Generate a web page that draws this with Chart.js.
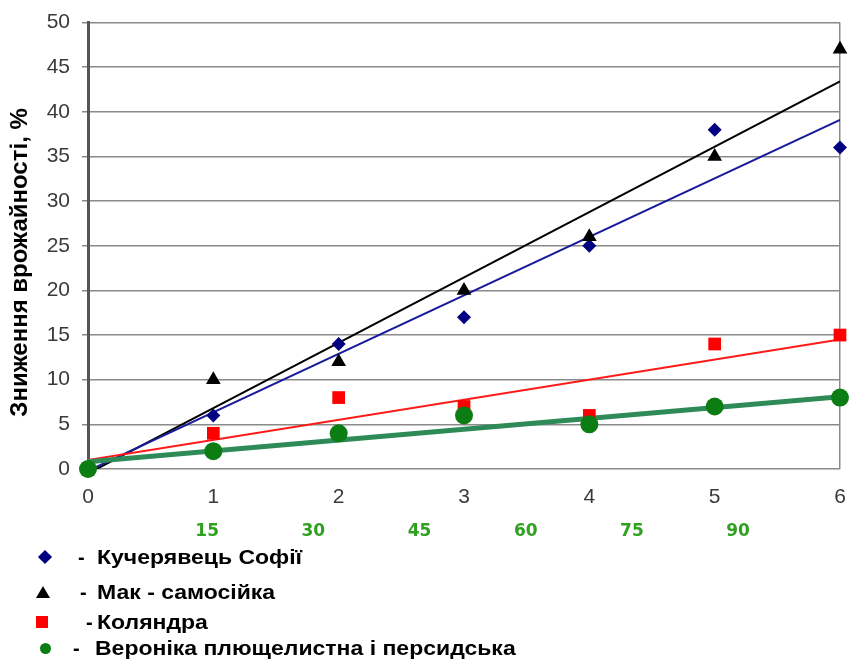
<!DOCTYPE html>
<html>
<head>
<meta charset="utf-8">
<script src="https://cdn.jsdelivr.net/npm/chart.js@4.4.1/dist/chart.umd.min.js"></script>
<style>
  body { margin: 0; background: #fff; }
  #wrap { position: relative; width: 850px; height: 662px; }
  #legend { position: absolute; left: 0; top: 0; width: 850px; height: 662px; pointer-events: none; }
  .row { position: absolute; left: 0; height: 24px; font: bold 20px "Liberation Sans", Arial, sans-serif; color: #000; }
  .row span { position: absolute; top: 0; line-height: 24px; white-space: nowrap; }
  .row .txt { transform: scaleX(1.15); transform-origin: left center; }
  .mk { position: absolute; }
</style>
</head>
<body>
<div id="wrap">
  <canvas id="myChart"></canvas>
  <div id="legend"></div>
</div>
<script>
// Дані з графіка
var doseX = [0, 1, 2, 3, 4, 5, 6];
var kucheryavets = [0, 6, 14, 17, 25, 38, 36];
var mak = [0, 10, 12, 20, 26, 35, 47];
var kolyandra = [0, 4, 8, 7, 6, 14, 15];
var veronika = [0, 2, 4, 6, 5, 7, 8];

// Лінії тренду: значення на початку (x=0) і в кінці (x=6), як на малюнку
var trendX = [0, 6];
var kucheryavetsTrend = [-0.2, 39.1];
var makTrend = [-0.5, 43.4];
var kolyandraTrend = [1.0, 14.5];
var veronikaTrend = [0.8, 8.1];

var yTicks = [0, 5, 10, 15, 20, 25, 30, 35, 40, 45, 50];
var normTicks = [15, 30, 45, 60, 75, 90];

var seriesNames = ['Кучерявець Софії', 'Мак - самосійка', 'Коляндра', 'Вероніка плющелистна і персидська'];

function toPoints(xs, ys) {
    return xs.map(function (x, i) { return { x: x, y: ys[i] }; });
}

function scatterSet(label, ys, style, color, radius, order) {
    return {
        type: 'scatter',
        label: label,
        data: toPoints(doseX, ys),
        pointStyle: style,
        pointRadius: radius,
        pointHoverRadius: radius,
        backgroundColor: color,
        borderColor: color,
        borderWidth: 0,
        clip: false,
        order: order
    };
}

function trendSet(ys, color, width, order) {
    return {
        type: 'line',
        data: toPoints(trendX, ys),
        borderColor: color,
        borderWidth: width,
        pointRadius: 0,
        fill: false,
        order: order
    };
}

var ctx = document.getElementById('myChart').getContext('2d');
var myChart = new Chart(ctx, {
    data: {
        datasets: [
            scatterSet(seriesNames[3], veronika, 'circle', '#0b7d12', 9, 0),
            scatterSet(seriesNames[2], kolyandra, 'rect', '#ff0000', 9, 1),
            scatterSet(seriesNames[1], mak, 'triangle', '#000000', 8.5, 2),
            scatterSet(seriesNames[0], kucheryavets, 'rectRot', '#000080', 7, 3),
            trendSet(veronikaTrend, '#2e8b57', 5, 4),
            trendSet(kolyandraTrend, '#ff1a1a', 2, 5),
            trendSet(kucheryavetsTrend, '#1a1a9a', 2, 6),
            trendSet(makTrend, '#000000', 2, 7)
        ]
    },
    options: {
        responsive: true,
        maintainAspectRatio: false,
        animation: false,
        layout: { padding: { top: 20, right: 10, bottom: 118, left: 0 } },
        plugins: { legend: { display: false }, tooltip: { enabled: false } },
        scales: {
            x: {
                type: 'linear',
                position: 'bottom',
                weight: 0,
                min: 0,
                max: 6,
                afterFit: function (s) { s.height = 40; },
                grid: {
                    drawTicks: true,
                    tickLength: 16,
                    tickColor: 'rgba(0,0,0,0)',
                    lineWidth: 1.5,
                    color: function (c) { return c.tick && c.tick.value === 6 ? '#8a8a8a' : 'rgba(0,0,0,0)'; }
                },
                border: { display: false },
                ticks: {
                    stepSize: 1,
                    padding: 0,
                    color: '#3a3a3a',
                    font: { family: 'Liberation Sans, Arial', size: 21 }
                }
            },
            x2: {
                type: 'linear',
                position: 'bottom',
                weight: 1,
                min: -1.84,
                max: 104.4,
                afterFit: function (s) { s.height = 35; },
                afterBuildTicks: function (s) { s.ticks = normTicks.map(function (v) { return { value: v }; }); },
                grid: { display: false, drawTicks: false },
                border: { display: false },
                ticks: {
                    autoSkip: false,
                    padding: 12,
                    color: '#30a020',
                    font: { family: 'DejaVu Sans', size: 17, weight: 'bold' }
                }
            },
            y: {
                type: 'linear',
                min: 0,
                max: 50,
                afterFit: function (s) { s.width = 88; },
                afterBuildTicks: function (s) { s.ticks = yTicks.map(function (v) { return { value: v }; }); },
                grid: { color: '#8a8a8a', lineWidth: 1.5, tickLength: 6 },
                border: { color: '#555555', width: 3 },
                ticks: {
                    padding: 12,
                    color: '#3a3a3a',
                    font: { family: 'Liberation Sans, Arial', size: 21, lineHeight: 1 }
                },
                title: {
                    display: true,
                    // пробіли в кінці зсувають підпис трохи вниз, як в оригіналі
                    text: 'Зниження врожайності, %     ',
                    color: '#000',
                    padding: { top: 6, bottom: 0 },
                    font: { family: 'Liberation Sans Narrow, Liberation Sans, Arial', size: 24, weight: 'bold' }
                }
            }
        }
    }
});

// Легенда під графіком
var legendRows = [
    { y: 557, dash: 78, txt: 97, marker: 'diamond', mx: 45, color: '#000080' },
    { y: 592, dash: 80, txt: 97, marker: 'triangle', mx: 43, color: '#000000' },
    { y: 622, dash: 86, txt: 97, marker: 'square', mx: 42, color: '#ff0000' },
    { y: 648, dash: 73, txt: 95, marker: 'circle', mx: 45, color: '#0b7d12' }
];
var legendEl = document.getElementById('legend');
legendRows.forEach(function (r, i) {
    var mk = document.createElement('div');
    mk.className = 'mk';
    var st = mk.style;
    if (r.marker === 'diamond') {
        st.width = '10px'; st.height = '10px'; st.left = (r.mx - 5) + 'px'; st.top = (r.y - 5) + 'px';
        st.background = r.color; st.transform = 'rotate(45deg)';
    } else if (r.marker === 'triangle') {
        st.width = '0'; st.height = '0'; st.left = (r.mx - 7) + 'px'; st.top = (r.y - 6) + 'px';
        st.borderLeft = '7px solid transparent'; st.borderRight = '7px solid transparent';
        st.borderBottom = '12px solid ' + r.color;
    } else if (r.marker === 'square') {
        st.width = '12px'; st.height = '12px'; st.left = (r.mx - 6) + 'px'; st.top = (r.y - 6) + 'px';
        st.background = r.color;
    } else {
        st.width = '11px'; st.height = '11px'; st.left = (r.mx - 5.5) + 'px'; st.top = (r.y - 5.5) + 'px';
        st.background = r.color; st.borderRadius = '50%';
    }
    legendEl.appendChild(mk);

    var row = document.createElement('div');
    row.className = 'row';
    row.style.top = (r.y - 12) + 'px';
    row.innerHTML = '<span style="left:' + r.dash + 'px">-</span><span class="txt" style="left:' + r.txt + 'px">' + seriesNames[i] + '</span>';
    legendEl.appendChild(row);
});
</script>
</body>
</html>
